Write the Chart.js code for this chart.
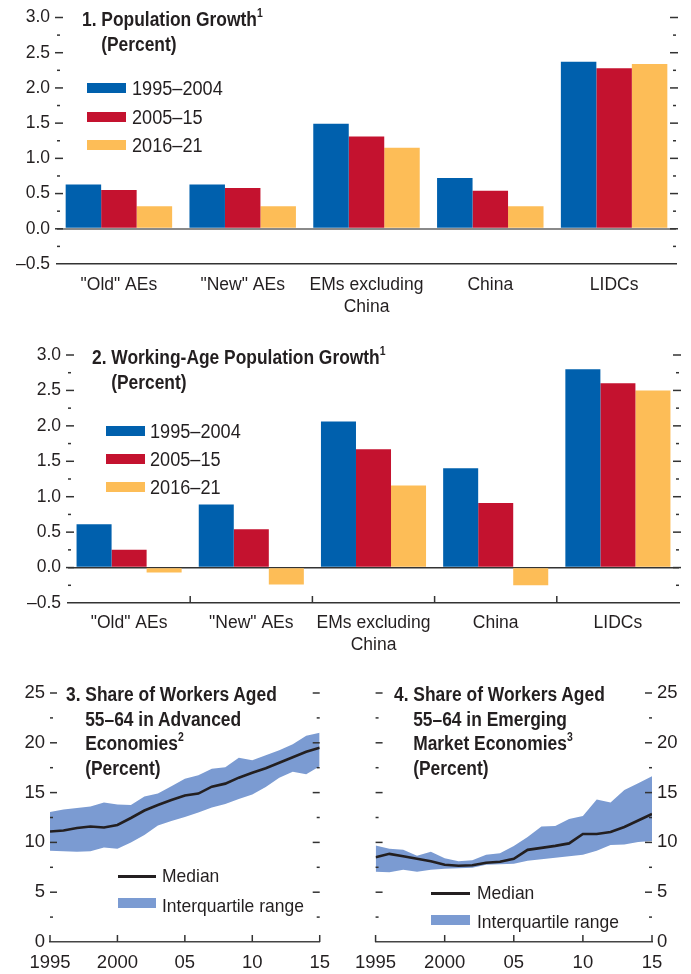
<!DOCTYPE html>
<html><head><meta charset="utf-8">
<script src="https://cdn.jsdelivr.net/npm/chart.js@4.4.1/dist/chart.umd.min.js"></script>
<style>
body{margin:0;background:#fff;}
#page{position:relative;width:691px;height:974px;overflow:hidden;background:#fff;font-family:'Liberation Sans',Arial,sans-serif;color:#231f20;}
canvas{position:absolute;}
.t{position:absolute;font-weight:bold;font-size:20px;line-height:24.5px;white-space:nowrap;transform:scaleX(0.87);transform-origin:0 0;}
.t sup{font-size:12px;line-height:0;position:relative;top:-1px;vertical-align:super;}
.t span{padding-left:22px;}
.lg{position:absolute;font-size:19.5px;white-space:nowrap;line-height:24px;transform:scaleX(0.93);transform-origin:0 0;}
.lg.s{font-size:19px;transform:scaleX(0.92);}
.sw{position:absolute;}
</style></head>
<body><div id="page">
<canvas id="c1" width="691" height="320" style="left:0;top:0;width:691px;height:320px"></canvas>
<canvas id="c2" width="691" height="330" style="left:0;top:330px;width:691px;height:330px"></canvas>
<canvas id="c3" width="340" height="314" style="left:0;top:660px;width:340px;height:314px"></canvas>
<canvas id="c4" width="346" height="314" style="left:345px;top:660px;width:346px;height:314px"></canvas>

<div class="t" style="left:82px;top:7px">1. Population Growth<sup>1</sup><br><span>(Percent)</span></div>
<div class="t" style="left:92px;top:345px">2. Working-Age Population Growth<sup>1</sup><br><span>(Percent)</span></div>
<div class="t" style="left:66px;top:682px">3. Share of Workers Aged<br><span>55–64 in Advanced</span><br><span>Economies<sup>2</sup></span><br><span>(Percent)</span></div>
<div class="t" style="left:394px;top:682px">4. Share of Workers Aged<br><span>55–64 in Emerging</span><br><span>Market Economies<sup>3</sup></span><br><span>(Percent)</span></div>

<div id="leg1"></div><div id="leg2"></div>
<div class="sw" style="left:118px;top:875px;width:38px;height:3px;background:#231f20"></div>
<div class="lg s" style="left:162px;top:864px">Median</div>
<div class="sw" style="left:118px;top:898px;width:38px;height:10px;background:#7b9bd2"></div>
<div class="lg s" style="left:162px;top:894px">Interquartile range</div>
<div class="sw" style="left:431px;top:892px;width:39px;height:3px;background:#231f20"></div>
<div class="lg s" style="left:477px;top:881px">Median</div>
<div class="sw" style="left:431px;top:915px;width:39px;height:10px;background:#7b9bd2"></div>
<div class="lg s" style="left:477px;top:910px">Interquartile range</div>
</div>
<script>
// ---------------- DATA ----------------
const barCategories = ['"Old" AEs', '"New" AEs', ['EMs excluding', 'China'], 'China', 'LIDCs'];
const periodLabels = ['1995–2004', '2005–15', '2016–21'];
// Panel 1: Population growth (percent)
const pop_1995_2004 = [0.63, 0.63, 1.49, 0.72, 2.37];
const pop_2005_15   = [0.55, 0.58, 1.31, 0.54, 2.28];
const pop_2016_21   = [0.32, 0.32, 1.15, 0.32, 2.34];
// Panel 2: Working-age population growth (percent)
const wap_1995_2004 = [0.61, 0.89, 2.06, 1.40, 2.80];
const wap_2005_15   = [0.25, 0.54, 1.67, 0.91, 2.60];
const wap_2016_21   = [-0.07, -0.24, 1.16, -0.25, 2.50];
// Panels 3-4: share of workers aged 55-64 (percent)
const years = [1995,1996,1997,1998,1999,2000,2001,2002,2003,2004,2005,2006,2007,2008,2009,2010,2011,2012,2013,2014,2015];
const aeMedian = [11.1,11.2,11.45,11.6,11.5,11.75,12.45,13.2,13.75,14.25,14.7,14.9,15.6,15.9,16.5,17.0,17.45,18.0,18.55,19.1,19.5];
const aeP75    = [13.05,13.3,13.45,13.6,14.0,13.8,13.75,14.6,14.9,15.65,16.4,16.75,17.4,17.55,18.5,18.25,18.75,19.25,19.85,20.7,21.0];
const aeP25    = [9.15,9.1,9.05,9.1,9.5,9.35,10.0,10.75,11.7,12.15,12.55,13.0,13.5,13.85,14.35,14.8,15.55,16.5,17.1,16.85,17.65];
const emMedian = [8.5,8.85,8.6,8.35,8.1,7.75,7.65,7.7,7.95,8.05,8.35,9.25,9.45,9.65,9.9,10.85,10.85,11.05,11.55,12.2,12.85];
const emP75    = [9.7,9.35,9.25,8.65,9.05,8.4,8.1,8.2,8.75,8.9,9.65,10.55,11.6,11.65,12.35,12.65,14.3,14.0,15.25,15.95,16.65];
const emP25    = [7.05,7.0,7.25,7.05,7.25,7.35,7.4,7.45,7.75,7.8,7.85,8.15,8.3,8.45,8.6,8.75,9.15,9.75,9.8,10.05,10.15];
const barYTickValues = [-0.5, 0, 0.5, 1, 1.5, 2, 2.5, 3];
const barYTickLabels = ['–0.5', '0.0', '0.5', '1.0', '1.5', '2.0', '2.5', '3.0'];
const shareYTickValues = [0, 5, 10, 15, 20, 25];
const shareYTickLabels = ['0', '5', '10', '15', '20', '25'];
const yearTickValues = [1995, 2000, 2005, 2010, 2015];
const yearTickLabels = ['1995', '2000', '05', '10', '15'];

// ---------------- STYLE ----------------
const FONT = "'Liberation Sans',Arial,sans-serif";
const TXT = '#231f20';
const C_BLUE = '#0060ad', C_RED = '#c4122f', C_YEL = '#fdbd57', C_BAND = '#7b9bd2';
const periodColors = [C_BLUE, C_RED, C_YEL];

function labelFrom(values, labels) {
  return v => { const i = values.findIndex(x => Math.abs(x - v) < 1e-9); return i >= 0 ? labels[i] : ''; };
}

const edgeTicks = {
  id: 'edgeTicks',
  afterDraw(chart, args, o) {
    const ctx = chart.ctx, a = chart.chartArea, ys = chart.scales.y, xs = chart.scales.x;
    ctx.save();
    ctx.strokeStyle = '#333'; ctx.lineWidth = 1.5;
    const seg = (x1, y1, x2, y2) => { ctx.beginPath(); ctx.moveTo(x1, y1); ctx.lineTo(x2, y2); ctx.stroke(); };
    ys.ticks.forEach(t => {
      const y = ys.getPixelForValue(t.value);
      const major = t.label !== '' && t.label !== undefined;
      if (o.bottomSkip && Math.abs(y - a.bottom) < 1) return;
      const len = major ? o.major : o.minor;
      const out = major ? o.out : 0;
      if (o.left) seg(a.left - out, y, a.left + len, y);
      if (o.right) seg(a.right - len, y, a.right + out, y);
    });
    if (o.xBoundaries) {
      for (let i = 1; i < xs.ticks.length; i++) {
        const x = (xs.getPixelForValue(i - 1) + xs.getPixelForValue(i)) / 2;
        seg(x, a.bottom, x, a.bottom - 7);
      }
    }
    if (o.xTicks) {
      xs.ticks.forEach(t => { const x = xs.getPixelForValue(t.value); seg(x, a.bottom, x, a.bottom - 7); });
    }
    ctx.restore();
  }
};

function buildLegend(id, left, swLeft, tops, textTops) {
  const el = document.getElementById(id);
  periodLabels.forEach((lab, i) => {
    el.insertAdjacentHTML('beforeend',
      `<div class="sw" style="left:${swLeft}px;top:${tops[i]}px;width:39px;height:10px;background:${periodColors[i]}"></div>` +
      `<div class="lg" style="left:${left}px;top:${textTops[i]}px">${lab}</div>`);
  });
}
buildLegend('leg1', 132, 87, [83, 112, 140], [76, 105, 133]);
buildLegend('leg2', 150, 106, [426, 454, 482], [419, 447, 475]);

function barChart(id, series, pad, yWidth, xHeight, zeroColor, zeroWidth, tickOpts, labelPad) {
  return new Chart(document.getElementById(id), {
    type: 'bar',
    data: {
      labels: barCategories,
      datasets: series.map((d, i) => ({ label: periodLabels[i], data: d, backgroundColor: periodColors[i], borderWidth: 0,
        categoryPercentage: 0.86, barPercentage: 1.0 }))
    },
    options: {
      responsive: false, animation: false, devicePixelRatio: 1,
      layout: { padding: pad },
      plugins: { legend: { display: false }, tooltip: { enabled: false }, edgeTicks: tickOpts },
      scales: {
        x: {
          grid: { display: false, drawTicks: false },
          border: { display: true, color: '#333', width: 1.5 },
          ticks: { color: TXT, font: { family: FONT, size: 17.5, lineHeight: 1.257 }, padding: labelPad, maxRotation: 0, autoSkip: false },
          afterFit: s => { s.height = xHeight; }
        },
        y: {
          min: -0.5, max: 3.0, z: 1,
          grid: { drawTicks: false, color: c => (c.tick && Math.abs(c.tick.value) < 1e-9) ? zeroColor : 'transparent', lineWidth: zeroWidth },
          border: { display: false },
          ticks: { stepSize: 0.25, autoSkip: false, color: TXT, padding: 7, font: { family: FONT, size: 17.5 },
            callback: labelFrom(barYTickValues, barYTickLabels) },
          afterFit: s => { s.width = yWidth; }
        }
      }
    },
    plugins: [edgeTicks]
  });
}

barChart('c1', [pop_1995_2004, pop_2005_15, pop_2016_21], { top: 16, right: 15, left: 0, bottom: 0 }, 57, 56,
  '#8a8a8a', 2, { left: true, right: true, major: 6, minor: 3, out: 2, bottomSkip: true }, 10);
barChart('c2', [wap_1995_2004, wap_2005_15, wap_2016_21], { top: 25, right: 12, left: 0, bottom: 0 }, 68, 57,
  '#333', 1.5, { left: true, right: true, major: 6, minor: 3, out: 2, bottomSkip: true, xBoundaries: true }, 9);

function shareChart(id, med, lo, hi, pad, yPos, yWidth) {
  const pts = arr => years.map((yr, i) => ({ x: yr, y: arr[i] }));
  return new Chart(document.getElementById(id), {
    type: 'line',
    data: {
      datasets: [
        { label: 'Median', data: pts(med), borderColor: TXT, borderWidth: 2.6, pointRadius: 0, fill: false, tension: 0 },
        { label: 'p25', data: pts(lo), borderColor: 'transparent', borderWidth: 0, pointRadius: 0, fill: false },
        { label: 'Interquartile range', data: pts(hi), borderColor: 'transparent', borderWidth: 0, pointRadius: 0,
          fill: '-1', backgroundColor: C_BAND }
      ]
    },
    options: {
      responsive: false, animation: false, devicePixelRatio: 1,
      layout: { padding: pad },
      plugins: { legend: { display: false }, tooltip: { enabled: false },
        edgeTicks: { left: true, right: true, major: 7, minor: 3, out: 0, bottomSkip: true, xTicks: true } },
      scales: {
        x: {
          type: 'linear', min: 1995, max: 2015,
          grid: { display: false, drawTicks: false },
          border: { display: true, color: '#444', width: 1.5 },
          ticks: { stepSize: 5, autoSkip: false, maxRotation: 0, color: TXT, padding: 10, font: { family: FONT, size: 18.5 },
            callback: labelFrom(yearTickValues, yearTickLabels) },
          afterFit: s => { s.height = 32; }
        },
        y: {
          position: yPos, min: 0, max: 25,
          grid: { display: false, drawTicks: false },
          border: { display: false },
          ticks: { stepSize: 2.5, autoSkip: false, color: TXT, padding: 5, font: { family: FONT, size: 18.5 },
            callback: labelFrom(shareYTickValues, shareYTickLabels) },
          afterFit: s => { s.width = yWidth; }
        }
      }
    },
    plugins: [edgeTicks]
  });
}
shareChart('c3', aeMedian, aeP25, aeP75, { top: 33, right: 18, left: 0, bottom: 0 }, 'left', 50);
shareChart('c4', emMedian, emP25, emP75, { top: 33, right: 0, left: 29, bottom: 0 }, 'right', 39);
</script>
</body></html>
